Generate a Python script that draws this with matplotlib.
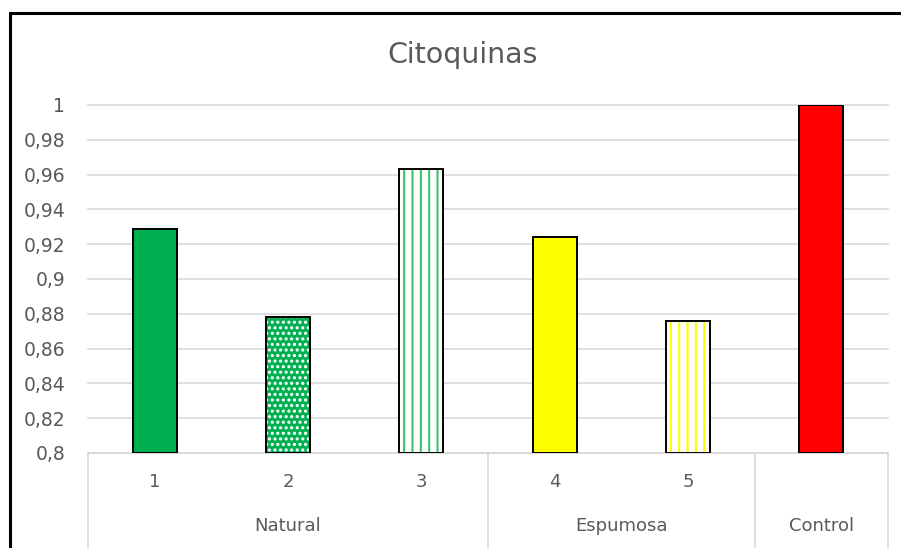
import matplotlib.pyplot as plt
from matplotlib.colors import to_rgba
from matplotlib.patches import Rectangle
from matplotlib.transforms import blended_transform_factory
from matplotlib.ticker import FuncFormatter

# data
samples = ["1", "2", "3", "4", "5", ""]
groups = ["Natural", "Espumosa", "Control"]
group_sizes = [3, 2, 1]
values = [0.929, 0.878, 0.963, 0.924, 0.876, 1.0]
face_colors = ["#00B050", "#00B050", "white", "#FFFF00", "white", "#FF0000"]
hatch_colors = ["#00B050", "white", "#3CC36E", "#FFFF00", "#FFFF00", "#FF0000"]
hatches = [None, "...", "||", None, "||", None]
yticks = [0.8, 0.82, 0.84, 0.86, 0.88, 0.9, 0.92, 0.94, 0.96, 0.98, 1.0]

txt = "#595959"
grid_c = "#D9D9D9"
plt.rcParams["hatch.linewidth"] = 1.5

fig = plt.figure(figsize=(9.01, 5.48), dpi=100)
W, H = 901, 548
ax = fig.add_axes([88 / W, (H - 453) / H, 800 / W, 348 / H])

x = list(range(len(samples)))
for i in x:
    b = ax.bar(i, values[i] - 0.8, bottom=0.8, width=0.33, color=face_colors[i],
               edgecolor="black", linewidth=1.4, zorder=3)[0]
    if hatches[i]:
        b.set_hatch(hatches[i])
        b._hatch_color = to_rgba(hatch_colors[i])

ax.set_xlim(-0.5, len(samples) - 0.5)
ax.set_ylim(0.8, 1.0)
ax.set_yticks(yticks)
ax.yaxis.set_major_formatter(FuncFormatter(lambda v, p: ("%g" % round(v, 2)).replace(".", ",")))
ax.tick_params(axis="y", length=0, pad=16.5, labelsize=13.5, labelcolor=txt)
ax.set_xticks([])
ax.grid(axis="y", color=grid_c, linewidth=1.2, zorder=0)
for gl in ax.get_ygridlines():
    gl.set_clip_on(False)
for s in ax.spines.values():
    s.set_visible(False)

fig.text(463 / W, 1 - 55 / H, "Citoquinas", fontsize=20.5, color=txt, ha="center", va="center")

# category axis with groups
tr = blended_transform_factory(ax.transData, ax.transAxes)
ax.plot([-0.5, len(samples) - 0.5], [0, 0], color=grid_c, lw=1.2, transform=tr, clip_on=False, zorder=2)
start = 0
bounds = [-0.5]
for g, n in zip(groups, group_sizes):
    end = start + n
    bounds.append(end - 0.5)
    ax.text((start + end - 1) / 2, -0.21, g, transform=tr, ha="center", va="center",
            fontsize=13, color=txt)
    start = end
for bx in bounds:
    ax.plot([bx, bx], [0, -0.3], color=grid_c, lw=1.2, transform=tr, clip_on=False)
for i, s in enumerate(samples):
    ax.text(i, -0.083, s, transform=tr, ha="center", va="center", fontsize=13, color=txt)

# outer chart border
fig.patches.append(Rectangle((10 / W, -0.1), 1.2, 0.1 + (H - 13) / H, transform=fig.transFigure,
                             fill=False, edgecolor="black", linewidth=2.2))

fig.savefig("out.png", dpi=100)
